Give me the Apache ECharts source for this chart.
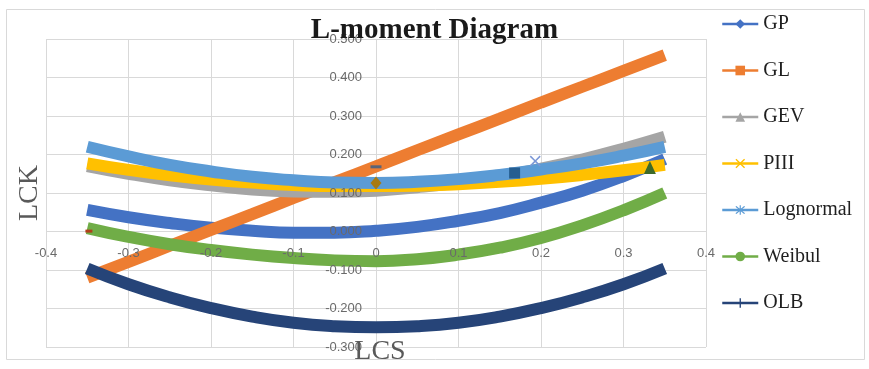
<!DOCTYPE html>
<html>
<head>
<meta charset="utf-8">
<script src="https://cdn.jsdelivr.net/npm/echarts@6/dist/echarts.min.js"></script>
<style>html,body{margin:0;padding:0;background:#fff}#c{width:869px;height:369px}</style>
</head>
<body>
<div id="c"></div>
<script>
// ---- data ----
const lcs = [-0.35,-0.3,-0.25,-0.2,-0.15,-0.1,-0.05,0,0.05,0.1,0.15,0.2,0.25,0.3,0.35];
const gp        = [0.056,0.037,0.022,0.010,0.002,-0.003,-0.003,0.002,0.012,0.028,0.048,0.075,0.106,0.144,0.188];
const gl        = [-0.120,-0.079,-0.037,0.004,0.045,0.087,0.128,0.169,0.211,0.252,0.293,0.335,0.376,0.417,0.458];
const gev       = [0.170,0.150,0.133,0.120,0.109,0.104,0.103,0.106,0.115,0.127,0.143,0.163,0.187,0.215,0.246];
const piii      = [0.177,0.160,0.146,0.135,0.127,0.121,0.118,0.118,0.119,0.123,0.129,0.137,0.147,0.159,0.173];
const lognormal = [0.220,0.195,0.173,0.156,0.142,0.133,0.127,0.126,0.129,0.136,0.147,0.161,0.177,0.197,0.220];
const weibul    = [0.009,-0.014,-0.033,-0.048,-0.060,-0.069,-0.075,-0.077,-0.072,-0.060,-0.042,-0.017,0.016,0.055,0.100];
const olb       = [-0.096,-0.137,-0.171,-0.199,-0.221,-0.237,-0.246,-0.249,-0.246,-0.237,-0.221,-0.199,-0.171,-0.137,-0.096];
const seriesNames = ['GP','GL','GEV','PIII','Lognormal','Weibul','OLB'];
// sample points (LCS, LCK)
const samplePts = [[-0.348,0.001],[0,0.168],[0,0.126],[0.168,0.152],[0.193,0.183],[0.332,0.166]];
const xTicks = {min:-0.4, max:0.4, step:0.1};
const yTicks = {min:-0.3, max:0.5, step:0.1};

// ---- layout / style ----
const W = 869, H = 369;
const G = {left:46, right:163, top:39, bottom:22};
const gw = W - G.left - G.right, gh = H - G.top - G.bottom;
// axes cross at zero: shift axes from grid edge to the zero of the other axis
const xAxisOffset = -gh * (0 - yTicks.min) / (yTicks.max - yTicks.min);
const yAxisOffset = -gw * (0 - xTicks.min) / (xTicks.max - xTicks.min);

const colors = ['#4472C4','#ED7D31','#A5A5A5','#FFC000','#5B9BD5','#70AD47','#264478'];
const X = 'path://M0,1L1,0L5,4L9,0L10,1L6,5L10,9L9,10L5,6L1,10L0,9L4,5Z';
const PLUS = 'path://M4.3,0H5.7V4.3H10V5.7H5.7V10H4.3V5.7H0V4.3H4.3Z';
const STAR = 'path://M0,1L1,0L5,4L9,0L10,1L6,5L10,9L9,10L5,6L1,10L0,9L4,5Z M4.4,-1H5.6V11H4.4Z';
const symbols = ['diamond','rect','triangle',X,STAR,'circle',PLUS];
const sampleStyle = [
  {c:'#b0401a', s:'rect', size:[7,3]},
  {c:'#5a6478', s:'rect', size:[11,3]},
  {c:'#a87a12', s:'diamond', size:[11,13]},
  {c:'#255E91', s:'rect', size:[11,11]},
  {c:'#7b97d6', s:X, size:[11,11]},
  {c:'#3e6a2a', s:'triangle', size:[12,13]}
];
const allData = [gp,gl,gev,piii,lognormal,weibul,olb];

const series = allData.map((arr,i)=>({
  name: seriesNames[i], type:'line', smooth:0.5, showSymbol:false,
  symbol: symbols[i], symbolSize: 10,
  data: lcs.map((x,k)=>[x,arr[k]]),
  lineStyle:{color:colors[i], width:12, cap:'butt'},
  itemStyle:{color:colors[i]},
  z: 2+i, silent:true, animation:false
}));
samplePts.forEach((p,i)=>{
  series.push({type:'scatter', data:[p], symbol:sampleStyle[i].s, symbolSize:sampleStyle[i].size,
    itemStyle:{color:sampleStyle[i].c, opacity:1}, z:20, animation:false});
});

const labelFont = {color:'#6a6a6a', fontSize:13, fontFamily:'Liberation Sans'};
const xFmt = v=>{const r=Math.round(v*10)/10; return r===0?'0':String(r);};
const yFmt = v=>(Math.round(v*1000)/1000).toFixed(3);
const xBase = {type:'value', min:xTicks.min, max:xTicks.max, interval:xTicks.step};
const yBase = {type:'value', min:yTicks.min, max:yTicks.max, interval:yTicks.step};

const chart = echarts.init(document.getElementById('c'), null, {renderer:'canvas'});
chart.setOption({
  backgroundColor:'#ffffff',
  animation:false,
  title:{text:'L-moment Diagram', left:'center', top:11, z:60,
    textStyle:{fontFamily:'Liberation Serif', fontWeight:'bold', fontSize:29, color:'#1a1a1a'}},
  legend:{orient:'vertical', left:716, top:9, data:seriesNames,
    itemWidth:36, itemHeight:12, itemGap:26.5,
    lineStyle:{width:2.5},
    textStyle:{fontFamily:'Liberation Serif', fontSize:20, color:'#1f1f1f', lineHeight:20}},
  grid:G,
  xAxis:[
    Object.assign({}, xBase, {position:'bottom', z:0,
      axisLine:{show:false, onZero:false}, axisTick:{show:false}, axisLabel:{show:false},
      splitLine:{show:true, lineStyle:{color:'#d9d9d9', width:1}}}),
    Object.assign({}, xBase, {position:'bottom', offset:xAxisOffset, z:40,
      axisLine:{show:false, onZero:false}, axisTick:{show:false}, splitLine:{show:false},
      axisLabel:Object.assign({margin:15, formatter:xFmt}, labelFont)})
  ],
  yAxis:[
    Object.assign({}, yBase, {position:'left', z:0,
      axisLine:{show:false, onZero:false}, axisTick:{show:false}, axisLabel:{show:false},
      splitLine:{show:true, lineStyle:{color:'#d9d9d9', width:1}}}),
    Object.assign({}, yBase, {position:'left', offset:yAxisOffset, z:40,
      axisLine:{show:false, onZero:false}, axisTick:{show:false}, splitLine:{show:false},
      axisLabel:Object.assign({margin:14, formatter:yFmt}, labelFont)})
  ],
  graphic:[
    {type:'rect', shape:{x:6.5,y:9.5,width:858,height:350}, style:{fill:null, stroke:'#d9d9d9', lineWidth:1}, z:-1, silent:true},
    {type:'text', x:30, y:193, rotation:Math.PI/2,
      style:{text:'LCK', font:'28px "Liberation Serif"', fill:'#595959', textAlign:'center', textVerticalAlign:'middle'}, z:50},
    {type:'text', x:380, y:352,
      style:{text:'LCS', font:'28px "Liberation Serif"', fill:'#595959', textAlign:'center', textVerticalAlign:'middle'}, z:50}
  ],
  series: series
});
</script>
</body>
</html>
